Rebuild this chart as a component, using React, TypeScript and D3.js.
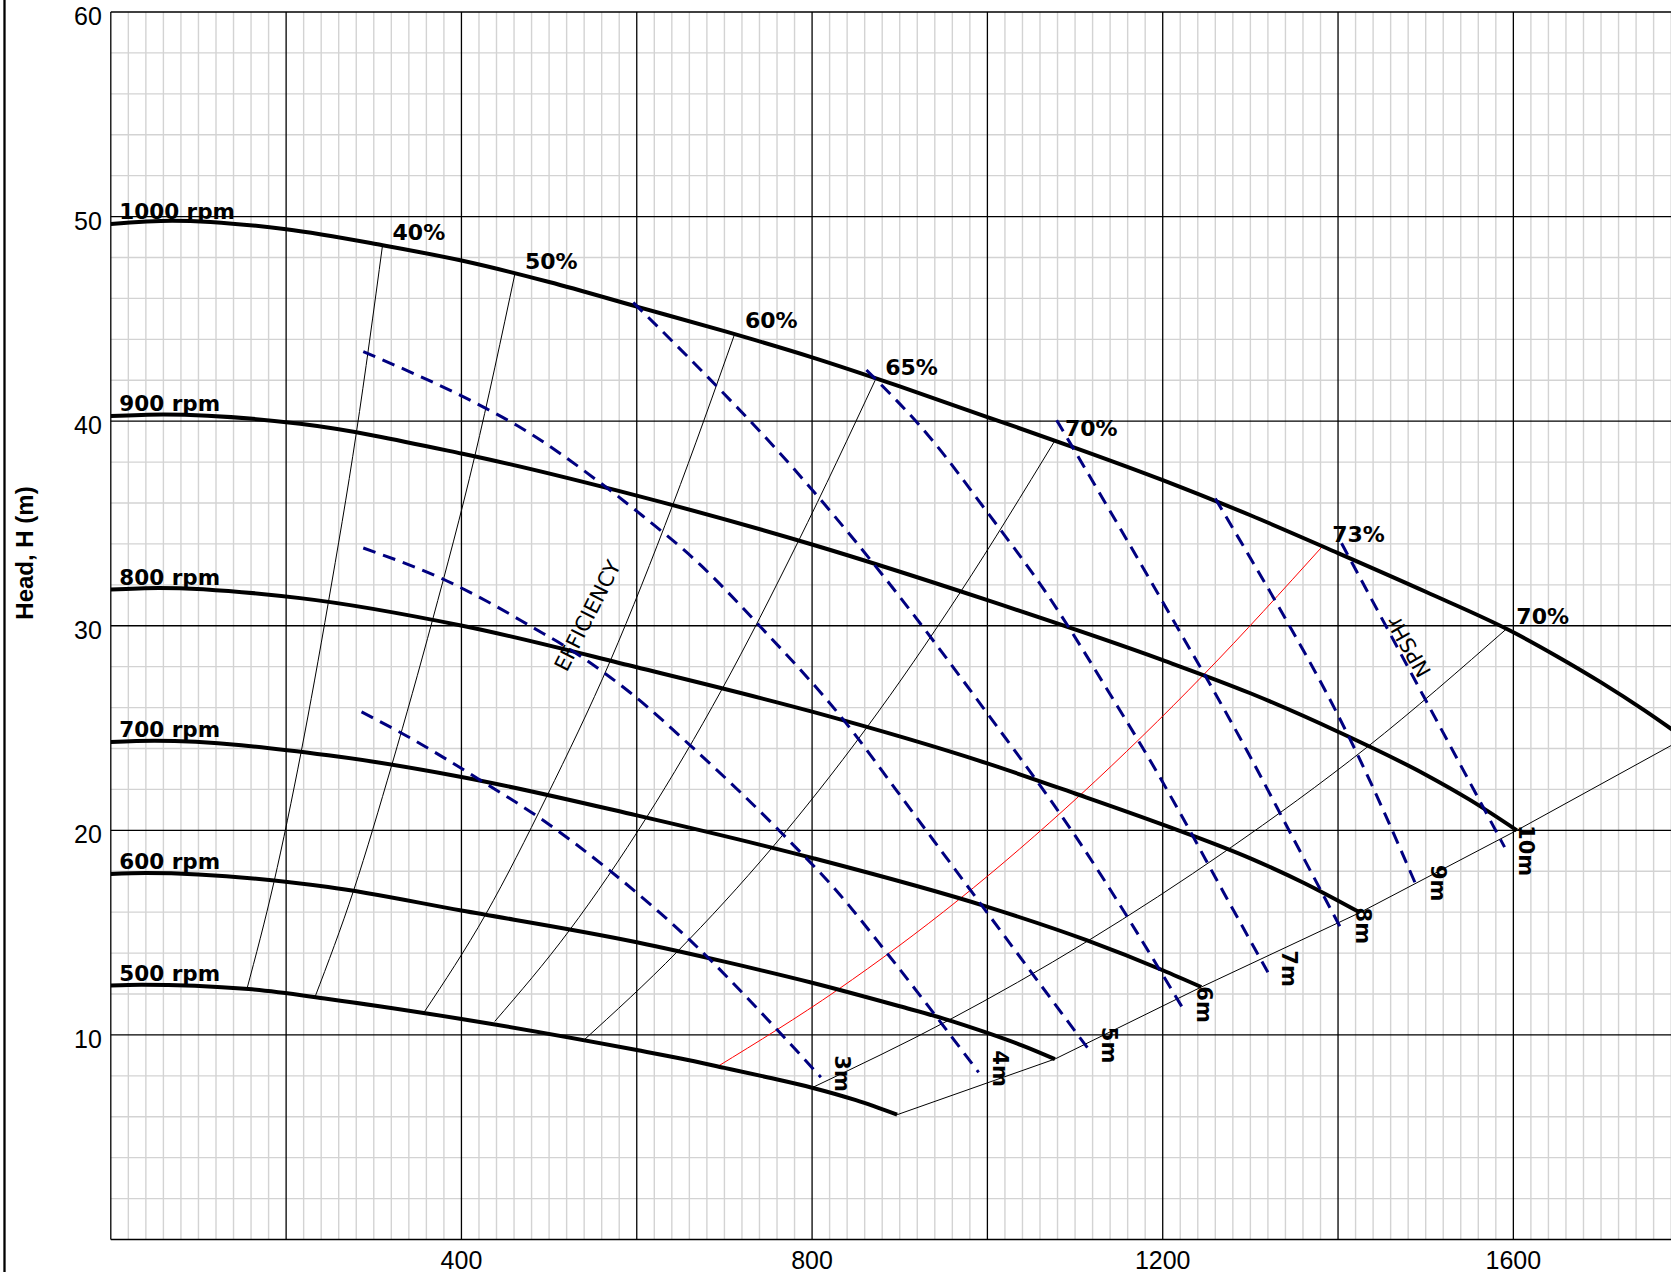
import * as d3 from 'd3'

type Pt = [number, number]

// axis tick labels
const X_TICK_LABELS = [400, 800, 1200, 1600]
const Y_TICK_LABELS = [10, 20, 30, 40, 50, 60]

// head curves per speed, [flow, head (m)]
const SPEEDS = ['1000 rpm', '900 rpm', '800 rpm', '700 rpm', '600 rpm', '500 rpm']
const HEAD_1000: Pt[] = [[0, 49.64], [70, 49.8], [200, 49.38], [310, 48.6], [400, 47.85], [500, 46.8], [600, 45.6], [700, 44.4], [800, 43.12], [900, 41.7], [1000, 40.2], [1100, 38.7], [1200, 37.12], [1300, 35.4], [1400, 33.55], [1500, 31.66], [1600, 29.68], [1650, 28.5], [1700, 27.23], [1750, 25.85], [1795, 24.5]]
const HEAD_900: Pt[] = [[0, 40.25], [60, 40.33], [216, 39.87], [400, 38.42], [600, 36.36], [800, 33.97], [1000, 31.25], [1200, 28.32], [1300, 26.7], [1400, 24.82], [1500, 22.72], [1550, 21.5], [1604, 20.0]]
const HEAD_800: Pt[] = [[0, 31.77], [55, 31.85], [216, 31.35], [401, 30.0], [600, 27.97], [800, 25.8], [1000, 23.27], [1100, 21.8], [1200, 20.28], [1300, 18.63], [1360, 17.45], [1425, 15.98]]
const HEAD_700: Pt[] = [[0, 24.32], [50, 24.38], [248, 23.67], [400, 22.61], [600, 20.73], [800, 18.65], [1000, 16.26], [1113, 14.63], [1200, 13.16], [1244, 12.34]]
const HEAD_600: Pt[] = [[0, 17.87], [40, 17.92], [248, 17.23], [400, 16.08], [600, 14.53], [700, 13.58], [800, 12.55], [900, 11.4], [950, 10.8], [1000, 10.1], [1040, 9.48], [1077, 8.82]]
const HEAD_500: Pt[] = [[0, 12.41], [35, 12.45], [157, 12.24], [248, 11.76], [400, 10.78], [600, 9.26], [650, 8.85], [700, 8.39], [750, 7.92], [800, 7.42], [850, 6.81], [897, 6.1]]
const HEAD_CURVES = [HEAD_1000, HEAD_900, HEAD_800, HEAD_700, HEAD_600, HEAD_500]

// iso-efficiency lines, from the 500 rpm curve up to the 1000 rpm curve
const EFF_LABELS = ['40%', '50%', '60%', '65%', '70%', '73%', '70%']
const EFF_40: Pt[] = [[155, 12.2], [186, 17.45], [217, 23.8], [248, 31.1], [280, 39.4], [310, 48.6]]
const EFF_50: Pt[] = [[233, 11.86], [277, 17.06], [321, 23.26], [367, 30.28], [415, 38.25], [461, 47.2]]
const EFF_60: Pt[] = [[357, 11.08], [428, 15.92], [497, 21.63], [570, 28.3], [641, 35.9], [712, 44.3]]
const EFF_65: Pt[] = [[438, 10.66], [523, 15.1], [611, 20.62], [697, 26.88], [784, 34.1], [872, 42.0]]
const EFF_70A: Pt[] = [[539, 9.72], [646, 14.06], [754, 19.13], [862, 25.0], [969, 31.63], [1077, 39.05]]
const EFF_73: Pt[] = [[692, 8.45], [829, 12.2], [967, 16.6], [1106, 21.73], [1247, 27.62], [1382, 33.87]]
const EFF_70B: Pt[] = [[800, 7.42], [955, 10.7], [1114, 14.58], [1274, 19.05], [1433, 24.06], [1592, 29.84]]
const EFF_CURVES = [EFF_40, EFF_50, EFF_60, EFF_65, EFF_70A, EFF_73, EFF_70B]
const BEST_EFF = '73%'

// NPSHr lines
const NPSH_LABELS = ['3m', '4m', '5m', '6m', '7m', '8m', '9m', '10m']
const NPSH_3: Pt[] = [[286, 25.79], [336, 24.65], [428, 22.28], [485, 20.73], [569, 18.04], [661, 14.62], [757, 10.4], [810, 7.93]]
const NPSH_4: Pt[] = [[288, 33.8], [383, 32.2], [429, 31.2], [482, 29.9], [520, 28.95], [558, 27.85], [592, 26.75], [661, 24.15], [761, 20.05], [832, 16.84], [886, 13.97], [938, 11.1], [990, 8.17]]
const NPSH_5: Pt[] = [[288, 43.4], [429, 40.6], [463, 39.8], [558, 37.0], [600, 35.6], [672, 33.0], [740, 30.0], [839, 25.23], [896, 21.97], [938, 19.54], [991, 16.48], [1056, 12.72], [1115, 9.32]]
const NPSH_6: Pt[] = [[596, 45.8], [680, 42.2], [763, 38.45], [873, 32.88], [995, 26.0], [1106, 19.36], [1223, 11.3]]
const NPSH_7: Pt[] = [[862, 42.5], [934, 39.23], [999, 35.6], [1068, 31.55], [1144, 26.37], [1189, 23.17], [1220, 20.83], [1269, 17.0], [1320, 13.06]]
const NPSH_8: Pt[] = [[1079, 40.05], [1140, 35.6], [1201, 31.09], [1296, 23.9], [1349, 19.6], [1404, 15.15]]
const NPSH_9: Pt[] = [[1260, 36.22], [1296, 33.6], [1334, 30.8], [1399, 25.71], [1420, 23.9], [1490, 17.23]]
const NPSH_10: Pt[] = [[1404, 34.03], [1497, 26.6], [1590, 19.18]]
const NPSH_CURVES = [NPSH_3, NPSH_4, NPSH_5, NPSH_6, NPSH_7, NPSH_8, NPSH_9, NPSH_10]

const W = 1671
const H = 1272
const ANN_FONT = '"DejaVu Sans", Verdana, sans-serif'
const TICK_FONT = '"Liberation Sans", Arial, Helvetica, sans-serif'

export default function App() {
  const x = d3.scaleLinear().domain([0, 1800]).range([110.8, 110.8 + 1800 * 0.8766])
  const y = d3.scaleLinear().domain([0, 60]).range([1239.5, 12])
  const smooth = d3.line<Pt>().x(d => x(d[0])).y(d => y(d[1])).curve(d3.curveMonotoneX)
  const straight = d3.line<Pt>().x(d => x(d[0])).y(d => y(d[1]))

  // end-of-curve line joins the last point of every speed curve
  const endLine = HEAD_CURVES.map(c => c[c.length - 1]).reverse()

  const minorX = d3.range(0, 1801, 20).filter(v => v % 200 !== 0)
  const minorY = d3.range(0, 61, 2).filter(v => v % 10 !== 0)
  const majorX = d3.range(200, 1801, 200)
  const majorY = d3.range(10, 60, 10)
  const [x0, x1] = x.range()
  const [y0, y1] = y.range()

  return (
    <svg width={W} height={H} style={{ position: 'absolute', left: 0, top: 0, background: '#fff' }}>
      <defs>
        <clipPath id="plot">
          <rect x={x0} y={y1} width={x1 - x0} height={y0 - y1} />
        </clipPath>
      </defs>
      <line x1={4.5} x2={4.5} y1={0} y2={H} stroke="#000" strokeWidth={2.3} />

      <g stroke="#d3d3d3" strokeWidth={1.4}>
        {minorX.map(v => <line key={'mx' + v} x1={x(v)} x2={x(v)} y1={y0} y2={y1} />)}
        {minorY.map(v => <line key={'my' + v} x1={x0} x2={x1} y1={y(v)} y2={y(v)} />)}
      </g>
      <g stroke="#000" strokeWidth={1.3}>
        {majorX.map(v => <line key={'Mx' + v} x1={x(v)} x2={x(v)} y1={y0} y2={y1} />)}
        {majorY.map(v => <line key={'My' + v} x1={x0} x2={x1} y1={y(v)} y2={y(v)} />)}
        <line x1={x0} x2={x0} y1={y0} y2={y1} />
        <line x1={x0} x2={x1} y1={y0} y2={y0} />
        <line x1={x0} x2={x1} y1={y1} y2={y1} />
      </g>

      <g fontFamily={TICK_FONT} fontSize={25} fill="#000">
        {Y_TICK_LABELS.map(v => (
          <text key={'yl' + v} x={x0 - 9} y={y(v) + 13} textAnchor="end">{v}</text>
        ))}
        {X_TICK_LABELS.map(v => (
          <text key={'xl' + v} x={x(v)} y={y0 + 29} textAnchor="middle">{v}</text>
        ))}
        <text transform={`translate(33,${(485 + 621) / 2}) rotate(-90)`} textAnchor="middle" fontWeight="bold" fontSize={24}>
          Head, H (m)
        </text>
      </g>

      <g clipPath="url(#plot)" fill="none">
        {EFF_CURVES.map((c, i) => (
          <path key={'eff' + i} d={smooth(c) ?? ''}
            stroke={EFF_LABELS[i] === BEST_EFF ? '#ff0000' : '#000'} strokeWidth={1} />
        ))}
        <path d={straight(endLine) ?? ''} stroke="#000" strokeWidth={1} />
        {HEAD_CURVES.map((c, i) => (
          <path key={'head' + i} d={smooth(c) ?? ''} stroke="#000" strokeWidth={4} />
        ))}
        {NPSH_CURVES.map((c, i) => (
          <path key={'npsh' + i} d={smooth(c) ?? ''} stroke="#000080" strokeWidth={3} strokeDasharray="13,8" />
        ))}
      </g>

      <g fontFamily={ANN_FONT} fontWeight="bold" fill="#000">
        {HEAD_CURVES.map((c, i) => (
          <text key={'sl' + i} x={x0 + 8.5} y={y(c[0][1]) - 5} fontSize={21.5}>{SPEEDS[i]}</text>
        ))}
        {EFF_CURVES.map((c, i) => {
          const top = c[c.length - 1]
          return <text key={'el' + i} x={x(top[0]) + 10} y={y(top[1]) - 5} fontSize={22}>{EFF_LABELS[i]}</text>
        })}
        {NPSH_CURVES.map((c, i) => {
          const end = c[c.length - 1]
          return (
            <text key={'nl' + i} fontSize={21}
              transform={`translate(${x(end[0]) + 14},${y(end[1]) - 22}) rotate(90)`}>{NPSH_LABELS[i]}</text>
          )
        })}
      </g>
      <g fontFamily={ANN_FONT} fontSize={21} fill="#000">
        <text transform={`translate(${x(520)},${y(27.7)}) rotate(-63)`}>EFFICIENCY</text>
        <text transform={`translate(${x(1507)},${y(27.75)}) rotate(-120)`}>NPSHr</text>
      </g>
    </svg>
  )
}
